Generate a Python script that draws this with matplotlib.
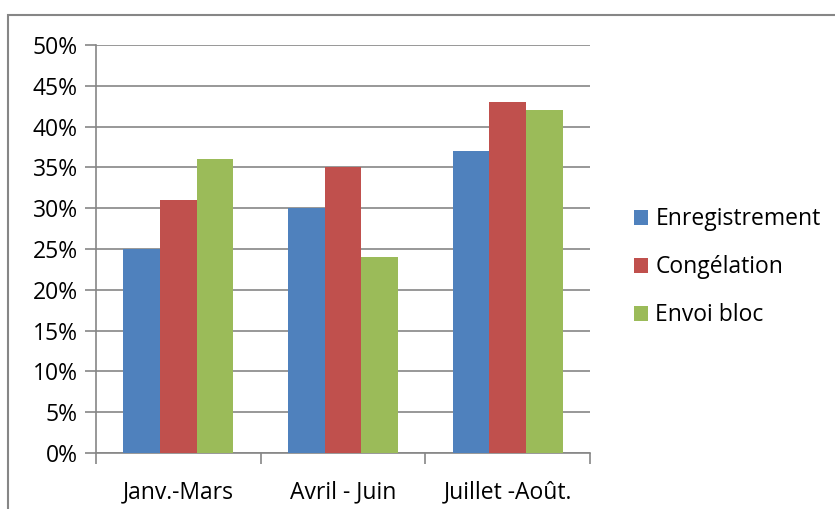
import numpy as np
import matplotlib.pyplot as plt
from matplotlib.patches import Rectangle
from matplotlib.ticker import FixedLocator

categories = ['Janv.-Mars', 'Avril - Juin', 'Juillet -Août.']
series = ['Enregistrement', 'Congélation', 'Envoi bloc']
enregistrement = [25, 30, 37]
congelation = [31, 35, 43]
envoi_bloc = [36, 24, 42]
colors = ['#4F81BD', '#C0504D', '#9BBB59']

plt.rcParams['font.family'] = ['Open Sans', 'DejaVu Sans']
fs = 16.5

fig = plt.figure(figsize=(8.35, 5.09), dpi=100)
ax = fig.add_axes([96/835, 1-453/509, (590-96)/835, (453-45)/509])

grey = '#868686'
x = np.arange(len(categories))
w = 0.222
for i, (vals, name) in enumerate(zip([enregistrement, congelation, envoi_bloc], series)):
  ax.bar(x + (i-1)*w, vals, width=w, color=colors[i], label=name, zorder=3)

ax.set_ylim(0, 50)
ax.set_xlim(-0.5, 2.5)
ax.set_yticks(range(0, 51, 5))
ax.set_yticklabels(['%d%%' % v for v in range(0, 51, 5)], fontsize=fs)
ax.yaxis.grid(True, color=grey, linewidth=1.2, zorder=0)
ax.tick_params(axis='y', length=8, color=grey, width=1.2, pad=5)

ax.set_xticks([-0.5, 0.5, 1.5, 2.5])
ax.set_xticklabels([])
ax.tick_params(axis='x', which='major', length=8, color=grey, width=1.2)
ax.xaxis.set_minor_locator(FixedLocator(x))
ax.set_xticklabels(categories, minor=True, fontsize=fs)
ax.tick_params(axis='x', which='minor', length=0, pad=20)

for s in ['top', 'right']:
  ax.spines[s].set_visible(False)
for s in ['left', 'bottom']:
  ax.spines[s].set_color(grey)
  ax.spines[s].set_linewidth(1.2)

leg = ax.legend(loc='center left', bbox_to_anchor=(1.065, 0.455), frameon=False,
                fontsize=fs, handlelength=0.65, handleheight=0.65, handletextpad=0.3,
                labelspacing=1.05, borderpad=0)

fig.patches.append(Rectangle((8/835, -0.1), 1.2, 1-15/509+0.1, transform=fig.transFigure,
                             fill=False, edgecolor=grey, linewidth=1.5))

plt.savefig('out.png', dpi=100)
